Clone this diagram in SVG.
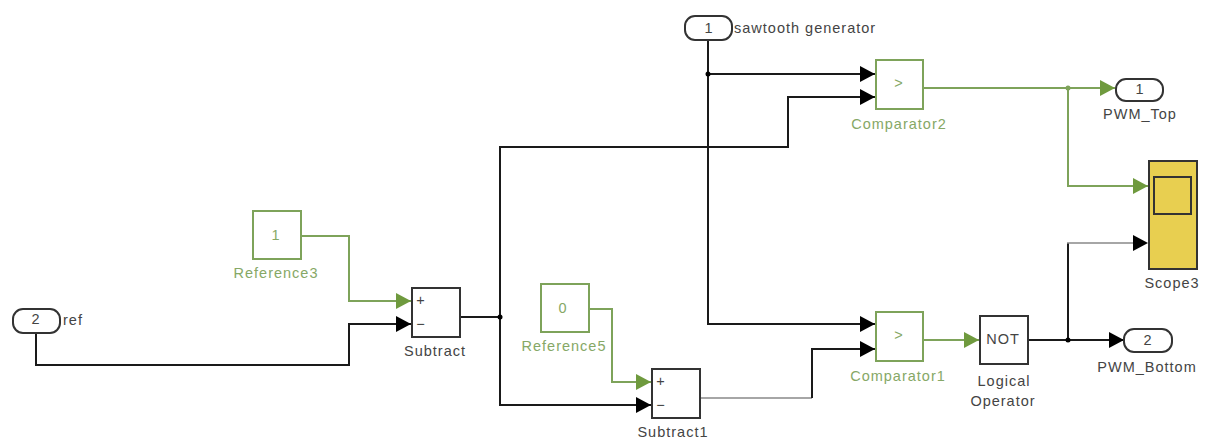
<svg xmlns="http://www.w3.org/2000/svg" width="1208" height="440" viewBox="0 0 1208 440">
<defs>
<marker id="ab" markerUnits="userSpaceOnUse" markerWidth="18" markerHeight="18" refX="15" refY="9" orient="auto"><path d="M0,1 L15,9 L0,17 Z" fill="#000"/></marker>
<marker id="ag" markerUnits="userSpaceOnUse" markerWidth="18" markerHeight="18" refX="15" refY="9" orient="auto"><path d="M0,1 L15,9 L0,17 Z" fill="#6f9a3e"/></marker>
</defs>
<style>
text{font-family:"Liberation Sans",Arial,sans-serif;font-size:14.5px;letter-spacing:1px;fill:#444;text-anchor:middle}
.g{fill:#86a866}
.l{text-anchor:start}
.bb{fill:#fff;stroke:#333;stroke-width:2}
.gb{fill:#fff;stroke:#7ea35a;stroke-width:2}
.k{fill:none;stroke:#1a1a1a;stroke-width:2}
.kg{fill:none;stroke:#888;stroke-width:1.5}
.gr{fill:none;stroke:#7ea35a;stroke-width:2}
</style>
<rect width="1208" height="440" fill="#fff"/>
<g id="connectors">
<path class="k" d="M708,41 V324 H875" marker-end="url(#ab)"/>
<path class="k" d="M708,74 H875" marker-end="url(#ab)"/>
<path class="k" d="M461,317 H500 V147 H788 V97 H875" marker-end="url(#ab)"/>
<path class="k" d="M500,317 V405 H651" marker-end="url(#ab)"/>
<path class="k" d="M36,333 V365 H349 V324 H411" marker-end="url(#ab)"/>
<path class="gr" d="M302,236 H349 V301 H411" marker-end="url(#ag)"/>
<path class="gr" d="M590,309 H612 V382 H651" marker-end="url(#ag)"/>
<path class="kg" d="M701,398 H812"/>
<path class="k" d="M812,398 V349 H875" marker-end="url(#ab)"/>
<path class="gr" d="M924,88 H1115" marker-end="url(#ag)"/>
<path class="gr" d="M1068,88 V186 H1148" marker-end="url(#ag)"/>
<path class="gr" d="M924,340 H979" marker-end="url(#ag)"/>
<path class="k" d="M1029,340 H1124" marker-end="url(#ab)"/>
<path class="k" d="M1068,340 V243"/>
<path class="kg" d="M1067,243 H1135"/>
<path d="M1133,235 L1148,243 L1133,251 Z" fill="#000"/>
<circle cx="708" cy="74" r="2.5" fill="#000"/>
<circle cx="500" cy="317" r="2.5" fill="#000"/>
<circle cx="1068" cy="88" r="2.5" fill="#7ea35a"/>
<circle cx="1068" cy="340" r="2.5" fill="#000"/>
</g>
<g id="in1"><rect class="bb" x="685" y="16" width="47" height="24" rx="10"/><text x="709" y="33">1</text><text class="l" x="734" y="33">sawtooth generator</text></g>
<g id="in2"><rect class="bb" x="13" y="309" width="47" height="24" rx="10"/><text x="36" y="324">2</text><text class="l" x="63" y="325">ref</text></g>
<g id="ref3"><rect class="gb" x="253" y="211" width="48" height="48"/><text class="g" x="276" y="240">1</text><text class="g" x="276" y="278">Reference3</text></g>
<g id="ref5"><rect class="gb" x="541" y="284" width="48" height="48"/><text class="g" x="563" y="313">0</text><text class="g" x="564" y="351">Reference5</text></g>
<g id="subtract"><rect class="bb" x="412" y="288" width="48" height="49"/><text x="421" y="305">+</text><text x="421" y="329">−</text><text x="435" y="356">Subtract</text></g>
<g id="subtract1"><rect class="bb" x="652" y="369" width="48" height="49"/><text x="661" y="386">+</text><text x="661" y="410">−</text><text x="673" y="437">Subtract1</text></g>
<g id="comp2"><rect class="gb" x="876" y="60" width="47" height="49"/><text class="g" x="899" y="88">&gt;</text><text class="g" x="899" y="129">Comparator2</text></g>
<g id="comp1"><rect class="gb" x="876" y="312" width="47" height="49"/><text class="g" x="899" y="340">&gt;</text><text class="g" x="898" y="381">Comparator1</text></g>
<g id="not"><rect class="bb" x="980" y="316" width="48" height="48"/><text x="1003" y="344">NOT</text><text x="1004" y="386">Logical</text><text x="1003" y="406">Operator</text></g>
<g id="out1"><rect class="bb" x="1116" y="79" width="47" height="22" rx="10"/><text x="1140" y="94">1</text><text x="1140" y="119">PWM_Top</text></g>
<g id="out2"><rect class="bb" x="1124" y="329" width="48" height="23" rx="10"/><text x="1148" y="345">2</text><text x="1147" y="372">PWM_Bottom</text></g>
<g id="scope"><rect x="1149" y="161" width="48" height="108" fill="#e8cf50" stroke="#333" stroke-width="2"/><rect x="1154" y="177" width="37" height="37" fill="none" stroke="#333" stroke-width="2"/><text x="1172" y="288">Scope3</text></g>
</svg>
